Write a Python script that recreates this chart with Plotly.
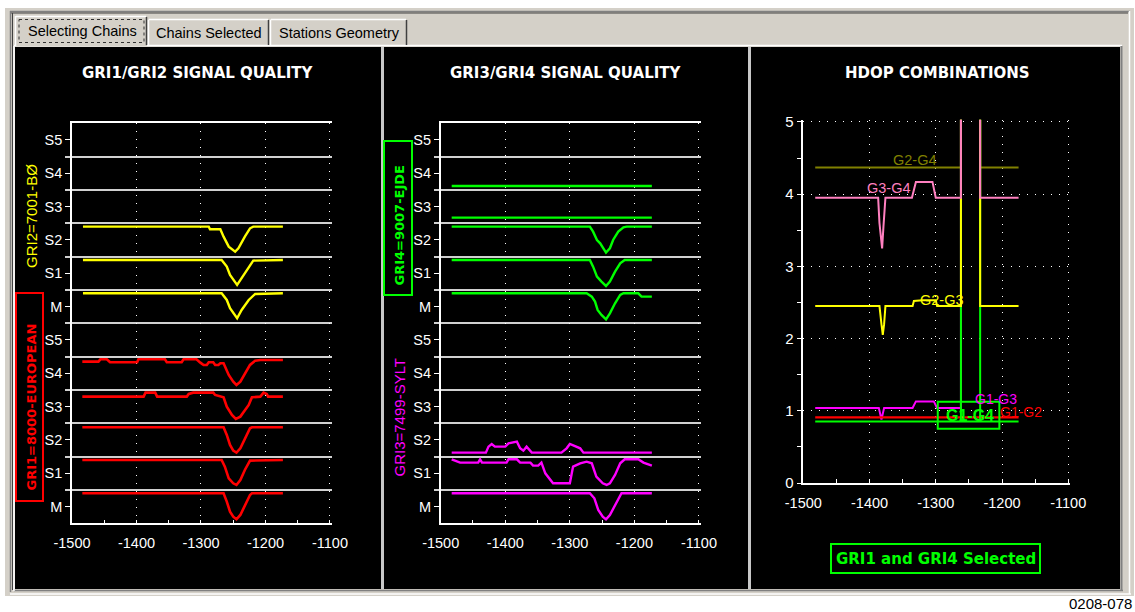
import plotly.graph_objects as go

W, H = 1135, 612

# ---------------- data ----------------
x_ticks = [-1500, -1400, -1300, -1200, -1100]
x_tick_labels = ["-1500", "-1400", "-1300", "-1200", "-1100"]
band_ticks = [0.5, 1.5, 2.5, 3.5, 4.5, 5.5, 6.5, 7.5, 8.5, 9.5, 10.5, 11.5]
band_labels = ["M", "S1", "S2", "S3", "S4", "S5", "M", "S1", "S2", "S3", "S4", "S5"]
band_edges = [1, 2, 3, 4, 5, 6, 7, 8, 9, 10, 11]
hdop_ticks = [0, 1, 2, 3, 4, 5]

# GRI1 (red) signal quality, lower group
gri1_m_x = [-1484, -1265, -1260, -1255, -1250, -1245, -1239, -1232, -1224, -1221, -1173]
gri1_m_y = [0.9, 0.9, 0.65, 0.35, 0.2, 0.12, 0.25, 0.55, 0.85, 0.9, 0.9]
gri1_s1_x = [-1484, -1268, -1263, -1257, -1250, -1245, -1239, -1232, -1224, -1173]
gri1_s1_y = [1.9, 1.9, 1.7, 1.35, 1.2, 1.15, 1.3, 1.6, 1.88, 1.9]
gri1_s2_x = [-1484, -1265, -1260, -1255, -1250, -1245, -1239, -1232, -1224, -1221, -1173]
gri1_s2_y = [2.88, 2.88, 2.65, 2.35, 2.18, 2.12, 2.25, 2.55, 2.85, 2.88, 2.88]
gri1_s3_x = [-1484, -1389, -1386, -1371, -1368, -1322, -1319, -1312, -1281, -1278, -1265,
             -1260, -1252, -1246, -1239, -1232, -1226, -1221, -1208, -1203, -1198, -1196, -1173]
gri1_s3_y = [3.8, 3.8, 3.92, 3.92, 3.8, 3.8, 3.88, 3.92, 3.92, 3.85, 3.78,
             3.5, 3.25, 3.13, 3.2, 3.4, 3.55, 3.78, 3.8, 3.92, 3.88, 3.8, 3.8]
gri1_s4_x = [-1484, -1459, -1456, -1446, -1441, -1399, -1397, -1356, -1353, -1330, -1327,
             -1307, -1301, -1296, -1291, -1288, -1281, -1278, -1273, -1270, -1265, -1263,
             -1257, -1250, -1245, -1239, -1232, -1224, -1216, -1208, -1173]
gri1_s4_y = [4.85, 4.85, 4.92, 4.92, 4.83, 4.83, 4.92, 4.92, 4.83, 4.83, 4.92,
             4.92, 4.82, 4.75, 4.75, 4.83, 4.83, 4.75, 4.75, 4.8, 4.8, 4.7,
             4.45, 4.25, 4.15, 4.25, 4.5, 4.75, 4.88, 4.9, 4.9]

# GRI2 (yellow) signal quality, upper group
gri2_m_x = [-1483, -1268, -1260, -1255, -1244, -1237, -1226, -1216, -1173]
gri2_m_y = [6.9, 6.9, 6.7, 6.45, 6.15, 6.4, 6.7, 6.88, 6.9]
gri2_s1_x = [-1483, -1268, -1260, -1255, -1244, -1237, -1226, -1219, -1173]
gri2_s1_y = [7.9, 7.9, 7.7, 7.45, 7.15, 7.35, 7.7, 7.88, 7.9]
gri2_s2_x = [-1483, -1288, -1286, -1270, -1265, -1257, -1247, -1242, -1232, -1224, -1219, -1173]
gri2_s2_y = [8.9, 8.9, 8.82, 8.82, 8.6, 8.3, 8.15, 8.25, 8.6, 8.85, 8.9, 8.9]

# GRI4 (green) signal quality, upper group
gri4_m_x = [-1483, -1274, -1266, -1261, -1257, -1251, -1244, -1238, -1230, -1222, -1217, -1194, -1189, -1173]
gri4_m_y = [6.9, 6.9, 6.8, 6.65, 6.4, 6.25, 6.12, 6.3, 6.6, 6.85, 6.9, 6.9, 6.8, 6.8]
gri4_s1_x = [-1483, -1269, -1264, -1258, -1251, -1244, -1238, -1230, -1222, -1215, -1173]
gri4_s1_y = [7.9, 7.9, 7.7, 7.4, 7.25, 7.12, 7.25, 7.55, 7.8, 7.9, 7.9]
gri4_s2_x = [-1483, -1269, -1264, -1258, -1253, -1248, -1244, -1238, -1233, -1225, -1217, -1212, -1173]
gri4_s2_y = [8.9, 8.9, 8.75, 8.5, 8.4, 8.25, 8.12, 8.25, 8.5, 8.75, 8.88, 8.9, 8.9]
gri4_s3_x = [-1483, -1173]
gri4_s3_y = [9.17, 9.17]
gri4_s4_x = [-1483, -1173]
gri4_s4_y = [10.12, 10.12]

# GRI3 (magenta) signal quality, lower group
gri3_m_x = [-1483, -1269, -1262, -1256, -1249, -1244, -1238, -1230, -1222, -1220, -1173]
gri3_m_y = [0.9, 0.9, 0.75, 0.4, 0.2, 0.12, 0.25, 0.55, 0.85, 0.9, 0.9]
gri3_s1_x = [-1483, -1470, -1442, -1439, -1436, -1398, -1395, -1382, -1377, -1361, -1357, -1349,
             -1344, -1338, -1326, -1300, -1295, -1284, -1274, -1266, -1259, -1249, -1243, -1238,
             -1230, -1222, -1215, -1194, -1186, -1178, -1173]
gri3_s1_y = [1.92, 1.82, 1.82, 1.92, 1.82, 1.82, 1.92, 1.92, 1.82, 1.82, 1.73, 1.73,
             1.82, 1.5, 1.2, 1.2, 1.7, 1.8, 1.85, 1.8, 1.4, 1.2, 1.15, 1.2,
             1.45, 1.8, 1.92, 1.92, 1.82, 1.77, 1.73]
gri3_s2_x = [-1483, -1430, -1426, -1421, -1416, -1400, -1395, -1390, -1382, -1377, -1372, -1367,
             -1362, -1359, -1313, -1305, -1300, -1292, -1284, -1279, -1173]
gri3_s2_y = [2.12, 2.12, 2.3, 2.38, 2.3, 2.3, 2.4, 2.42, 2.45, 2.25, 2.18, 2.3,
             2.18, 2.12, 2.12, 2.25, 2.38, 2.32, 2.25, 2.12, 2.12]

# HDOP combinations
g2g4_x = [-1482, -1262, -1262, -1233, -1233, -1175]
g2g4_y = [4.37, 4.37, 6, 6, 4.37, 4.37]
g1g3_x = [-1482, -1386, -1382, -1378, -1335, -1330, -1303, -1298, -1262, -1262]
g1g3_y = [1.04, 1.04, 0.88, 1.04, 1.04, 1.13, 1.13, 1.04, 1.04, 6]
g1g2_x = [-1482, -1175]
g1g2_y = [0.91, 0.91]
g1g4_x = [-1482, -1262, -1262, -1262, -1233, -1233, -1233, -1175]
g1g4_y = [0.85, 0.85, 6, 0.85, 0.85, 6, 0.85, 0.85]
g2g3_x = [-1482, -1385, -1382, -1380, -1378, -1376, -1335, -1333, -1320, -1300, -1298,
          -1262, -1262, -1233, -1233, -1175]
g2g3_y = [2.45, 2.45, 2.2, 2.05, 2.2, 2.45, 2.45, 2.52, 2.53, 2.53, 2.45,
          2.45, 6, 6, 2.45, 2.45]
g3g4_x = [-1482, -1387, -1385, -1381, -1379, -1376, -1336, -1333, -1330, -1305, -1300,
          -1262, -1262, -1233, -1233, -1175]
g3g4_y = [3.95, 3.95, 3.6, 3.25, 3.55, 3.95, 3.95, 4.05, 4.17, 4.17, 3.95,
          3.95, 6, 6, 3.95, 3.95]

RED, YEL, GRN, MAG, PINK, OLIVE = "#ff0000", "#ffff00", "#00ff00", "#ff00ff", "#ff80c0", "#808000"

# ---------------- helpers ----------------
def PX(p):
    return p / W


def PY(p):
    return 1 - p / H


SANS = "Liberation Sans, Arial, sans-serif"
DEJA = "DejaVu Sans, sans-serif"
tickfont = dict(family=SANS, size=14.5, color="white")

fig = go.Figure()


def add(xs, ys, color, xa, ya, width):
    fig.add_trace(go.Scatter(x=xs, y=ys, mode="lines", xaxis=xa, yaxis=ya,
                             line=dict(color=color, width=width), hoverinfo="skip",
                             showlegend=False))


# panel 1
for xs, ys in [(gri1_m_x, gri1_m_y), (gri1_s1_x, gri1_s1_y), (gri1_s2_x, gri1_s2_y),
               (gri1_s3_x, gri1_s3_y), (gri1_s4_x, gri1_s4_y)]:
    add(xs, ys, RED, "x", "y", 2.6)
for xs, ys in [(gri2_m_x, gri2_m_y), (gri2_s1_x, gri2_s1_y), (gri2_s2_x, gri2_s2_y)]:
    add(xs, ys, YEL, "x", "y", 2.4)
# panel 2
for xs, ys in [(gri4_m_x, gri4_m_y), (gri4_s1_x, gri4_s1_y), (gri4_s2_x, gri4_s2_y),
               (gri4_s3_x, gri4_s3_y), (gri4_s4_x, gri4_s4_y)]:
    add(xs, ys, GRN, "x2", "y2", 2.4)
for xs, ys in [(gri3_m_x, gri3_m_y), (gri3_s1_x, gri3_s1_y), (gri3_s2_x, gri3_s2_y)]:
    add(xs, ys, MAG, "x2", "y2", 2.4)
# panel 3
add(g2g4_x, g2g4_y, OLIVE, "x3", "y3", 2)
add(g1g3_x, g1g3_y, MAG, "x3", "y3", 2)
add(g1g2_x, g1g2_y, RED, "x3", "y3", 2.2)
add(g1g4_x, g1g4_y, GRN, "x3", "y3", 2)
add(g2g3_x, g2g3_y, YEL, "x3", "y3", 2)
add(g3g4_x, g3g4_y, PINK, "x3", "y3", 2)


def sq_xaxis(p0, p1, anchor):
    return dict(domain=[PX(p0), PX(p1)], range=[-1500, -1097.5], anchor=anchor,
                tickmode="array", tickvals=x_ticks, ticktext=x_tick_labels,
                ticks="inside", ticklen=4,
                tickcolor="white", tickwidth=1, showline=True, linecolor="white",
                linewidth=1.5, mirror=True, showgrid=True, gridcolor="white", gridwidth=1,
                griddash="1px,7px", zeroline=False, tickfont=tickfont, ticklabelstandoff=6,
                minor=dict(tick0=-1500, dtick=50, ticks="inside", ticklen=4,
                           tickcolor="white", showgrid=False),
                automargin=False, fixedrange=True)


def sq_yaxis(anchor):
    return dict(domain=[PY(523.3), PY(123.3)], range=[0, 12], anchor=anchor,
                tickmode="array", tickvals=band_ticks, ticktext=band_labels,
                ticks="outside", ticklen=5, tickcolor="white", tickwidth=1,
                showline=True, linecolor="white", linewidth=1.5, showgrid=False,
                zeroline=False, tickfont=tickfont,
                minor=dict(tickmode="array", tickvals=band_edges, ticks="outside",
                           ticklen=5, tickcolor="#d0d0d0", tickwidth=2, showgrid=True,
                           gridcolor="#d0d0d0", gridwidth=2),
                automargin=False, fixedrange=True)


xa3 = dict(domain=[PX(803.3), PX(1069.9)], range=[-1500, -1097.5], anchor="y3",
           tickmode="array", tickvals=x_ticks, ticktext=x_tick_labels, ticks="inside",
           ticklen=4, tickcolor="white",
           showline=True, linecolor="white", linewidth=1.5, showgrid=True, gridcolor="white",
           griddash="1px,7px", zeroline=False, tickfont=tickfont, ticklabelstandoff=6,
           minor=dict(tick0=-1500, dtick=50, ticks="inside", ticklen=4, tickcolor="white",
                      showgrid=False),
           automargin=False, fixedrange=True)
ya3 = dict(domain=[PY(483), PY(119.8)], range=[0, 5.03], anchor="x3",
           tickmode="array", tickvals=hdop_ticks, ticks="outside", ticklen=5,
           tickcolor="white", showline=True, linecolor="white", linewidth=1.5,
           showgrid=True, gridcolor="white", griddash="1px,7px", zeroline=False,
           tickfont=dict(family=SANS, size=15, color="white"),
           minor=dict(tick0=0, dtick=0.5, ticks="outside", ticklen=5, tickcolor="white",
                      showgrid=False),
           automargin=False, fixedrange=True)

# ---------------- frame shapes ----------------
shapes = []


def rect(x0, y0, x1, y1, fill=None, line=None, lw=1, dash=None, ref=("paper", "paper")):
    s = dict(type="rect", xref=ref[0], yref=ref[1], layer="below",
             line=dict(color=line if line else "rgba(0,0,0,0)", width=lw if line else 0))
    if ref == ("paper", "paper"):
        s.update(x0=PX(x0), y0=PY(y0), x1=PX(x1), y1=PY(y1))
    else:
        s.update(x0=x0, y0=y0, x1=x1, y1=y1)
    if fill:
        s["fillcolor"] = fill
    if dash:
        s["line"]["dash"] = dash
    shapes.append(s)


def hline(x0, x1, y, color, lw=1):
    shapes.append(dict(type="line", xref="paper", yref="paper", layer="below",
                       x0=PX(x0), x1=PX(x1), y0=PY(y), y1=PY(y),
                       line=dict(color=color, width=lw)))


def vline(x, y0, y1, color, lw=1):
    shapes.append(dict(type="line", xref="paper", yref="paper", layer="below",
                       x0=PX(x), x1=PX(x), y0=PY(y0), y1=PY(y1),
                       line=dict(color=color, width=lw)))


GRAY = "#d4d0c8"
rect(5, 8, 1134, 596, fill=GRAY)
hline(10, 1130, 11.5, "#808080", 1.5)
hline(11, 1128, 13, "#404040", 1)
vline(10.5, 11, 592, "#808080", 1.5)
vline(12.5, 13, 590, "#404040", 1)
vline(1129.5, 11, 594, "#ffffff", 1.5)
hline(10, 1131, 594, "#ffffff", 1.5)
# tab page
hline(14, 1122, 45.5, "#ffffff", 1.5)
rect(15, 47, 1120, 589, fill="#000000")
vline(1121.5, 46, 591, "#808080", 2)
hline(14, 1123, 590.5, "#808080", 1.5)
vline(14, 46, 591, "#ffffff", 1.5)
# tabs
rect(15, 16, 147, 46, fill=GRAY)
hline(16, 146, 16.5, "#ffffff", 1.5)
vline(15.5, 16, 46, "#ffffff", 1.5)
vline(146.5, 17, 45, "#404040", 1.5)
rect(19, 19.5, 144, 42.5, line="#303030", lw=1, dash="dot")
hline(149, 268, 19.5, "#ffffff", 1.5)
vline(148.5, 19.5, 45, "#ffffff", 1.5)
vline(268.5, 20, 45, "#404040", 1.5)
hline(271, 406, 19.5, "#ffffff", 1.5)
vline(270.5, 19.5, 45, "#ffffff", 1.5)
vline(406.5, 20, 45, "#404040", 1.5)
# panel separators
vline(382.5, 47, 589, "#c8c8c8", 3)
vline(749.5, 47, 589, "#c8c8c8", 3)
# label boxes
rect(16, 293, 43, 501, line=RED, lw=2)
rect(384, 141, 412, 295, line=GRN, lw=2)
rect(831, 544, 1040, 573, line=GRN, lw=2)
shapes.append(dict(type="rect", xref="x3", yref="y3", layer="above",
                   x0=-1297, x1=-1204, y0=0.75, y1=1.126,
                   line=dict(color=GRN, width=2)))

# ---------------- annotations ----------------
ann = []


def text(x, y, t, color, size, family=SANS, bold=False, angle=0, ref=("paper", "paper"),
         xanchor="center"):
    a = dict(text=t, showarrow=False, xref=ref[0], yref=ref[1], xanchor=xanchor,
             yanchor="middle", textangle=angle,
             font=dict(family=family, size=size, color=color,
                       weight="bold" if bold else "normal"))
    if ref == ("paper", "paper"):
        a.update(x=PX(x), y=PY(y))
    else:
        a.update(x=x, y=y)
    ann.append(a)


text(82, 31, "Selecting Chains", "#000000", 14.5)
text(208.5, 32.5, "Chains Selected", "#000000", 14.5)
text(339, 32.5, "Stations Geometry", "#000000", 14.5)
text(198, 73, "GRI1/GRI2 SIGNAL QUALITY", "white", 15, DEJA, True)
text(566, 73, "GRI3/GRI4 SIGNAL QUALITY", "white", 15, DEJA, True)
text(937.5, 73, "HDOP COMBINATIONS", "white", 15, DEJA, True)
text(31, 216, "GRI2=7001-BØ", YEL, 15, angle=-90)
text(30.5, 407, "GRI1=8000-EUROPEAN", RED, 13, DEJA, True, angle=-90)
text(398.5, 226, "GRI4=9007-EJDE", GRN, 13, DEJA, True, angle=-90)
text(399, 417.5, "GRI3=7499-SYLT", MAG, 15, angle=-90)
text(935.5, 558.5, "GRI1 and GRI4 Selected", GRN, 15, DEJA, True)
text(1134, 603.5, "0208-078", "#000000", 15, xanchor="right")
r3 = ("x3", "y3")
text(-1331, 4.47, "G2-G4", OLIVE, 14.5, ref=r3)
text(-1370, 4.09, "G3-G4", PINK, 14.5, ref=r3)
text(-1291, 2.54, "G2-G3", YEL, 14.5, ref=r3)
text(-1209, 1.17, "G1-G3", MAG, 14, ref=r3)
text(-1171, 0.98, "G1-G2", RED, 14, ref=r3)
text(-1248, 0.93, "G1-G4", GRN, 16, bold=True, ref=r3)

fig.update_layout(
    width=W, height=H, margin=dict(l=0, r=0, t=0, b=0, autoexpand=False),
    paper_bgcolor="#ffffff", plot_bgcolor="rgba(0,0,0,0)",
    showlegend=False,
    xaxis=sq_xaxis(72, 331.6, "y"), yaxis=sq_yaxis("x"),
    xaxis2=sq_xaxis(440.7, 700.6, "y2"), yaxis2=sq_yaxis("x2"),
    xaxis3=xa3, yaxis3=ya3,
    shapes=shapes, annotations=ann,
)

fig.write_html("out.html", config={"displayModeBar": False},
               post_script="document.body.style.margin='0px';")
